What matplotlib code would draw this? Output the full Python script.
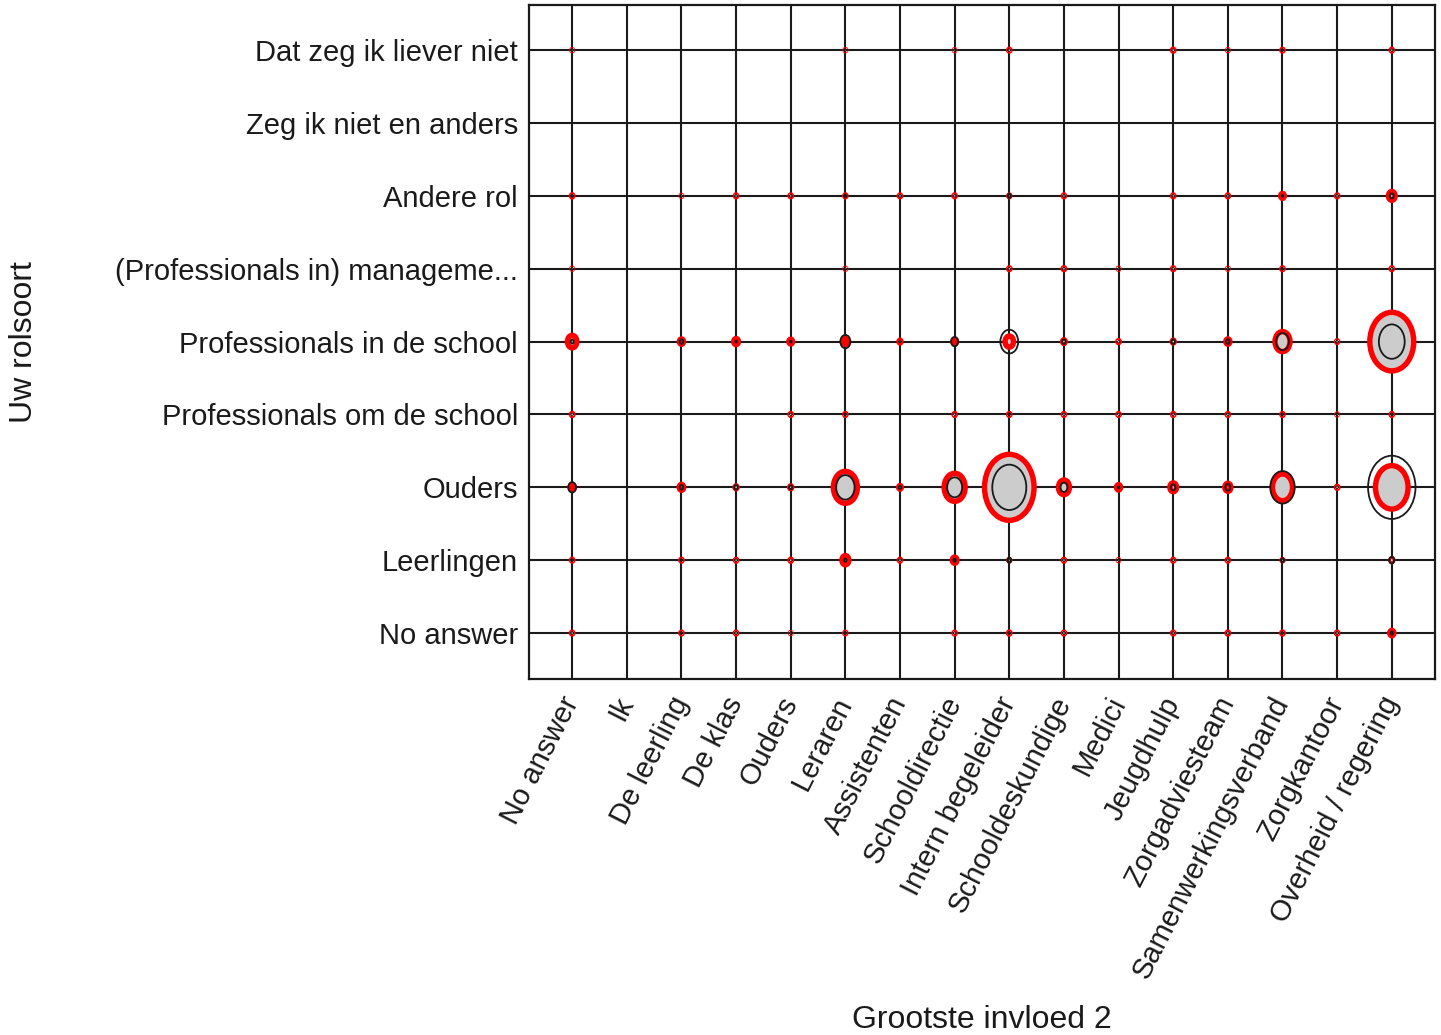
import matplotlib

matplotlib.use("Agg")
import matplotlib.pyplot as plt
import numpy as np
from matplotlib.patches import Ellipse

plt.rcParams["font.family"] = ["Liberation Sans", "DejaVu Sans"]

# rows listed top to bottom, columns left to right
row_labels = [
    "Dat zeg ik liever niet",
    "Zeg ik niet en anders",
    "Andere rol",
    "(Professionals in) manageme...",
    "Professionals in de school",
    "Professionals om de school",
    "Ouders",
    "Leerlingen",
    "No answer",
]
col_labels = [
    "No answer", "Ik", "De leerling", "De klas", "Ouders", "Leraren",
    "Assistenten", "Schooldirectie", "Intern begeleider", "Schooldeskundige",
    "Medici", "Jeugdhulp", "Zorgadviesteam", "Samenwerkingsverband",
    "Zorgkantoor", "Overheid / regering",
]

expected = [
    [0.01, 0, 0, 0, 0, 0.01, 0, 0.01, 0.04, 0, 0, 0.05, 0.01, 0.04, 0, 0.04],
    [0, 0, 0, 0, 0, 0, 0, 0, 0, 0, 0, 0, 0, 0, 0, 0],
    [0.05, 0, 0.01, 0.04, 0.04, 0.04, 0.04, 0.04, 0.03, 0.04, 0, 0.04, 0.04, 0.32, 0.04, 1.1],
    [0.01, 0, 0, 0, 0, 0.01, 0, 0, 0.04, 0.05, 0.01, 0.04, 0.01, 0.04, 0, 0.04],
    [2.2, 0, 0.4, 0.53, 0.32, 0.53, 0.1, 0.32, 1.75, 0.17, 0.05, 0.1, 0.4, 5.6, 0.03, 48],
    [0.05, 0, 0, 0, 0.04, 0.04, 0, 0.04, 0.04, 0.04, 0.04, 0.04, 0.04, 0.04, 0.01, 0.04],
    [0.4, 0, 0.48, 0.1, 0.1, 14.3, 0.17, 11, 61, 3, 0.4, 1.1, 0.9, 10, 0.05, 26.4],
    [0.04, 0, 0.04, 0.04, 0.05, 1.2, 0.04, 0.53, 0.02, 0.04, 0.01, 0.04, 0.04, 0.02, 0, 0.1],
    [0.04, 0, 0.04, 0.04, 0.01, 0.03, 0, 0.04, 0.05, 0.04, 0, 0.04, 0.05, 0.05, 0.04, 0.4],
]
observed = [
    [0, 0, 0, 0, 0, 0, 0, 0, 0, 0, 0, 0, 0, 0.03, 0, 0],
    [0, 0, 0, 0, 0, 0, 0, 0, 0, 0, 0, 0, 0, 0, 0, 0],
    [0.03, 0, 0, 0, 0, 0.1, 0, 0, 0.22, 0, 0, 0, 0, 0.05, 0, 0.36],
    [0, 0, 0, 0, 0, 0, 0, 0, 0, 0, 0, 0, 0, 0.03, 0, 0],
    [0.22, 0, 0.29, 0.05, 0.05, 2.5, 0.02, 1.2, 7.9, 0.29, 0, 0.29, 0.29, 4.1, 0, 16.6],
    [0, 0, 0, 0, 0, 0.03, 0, 0, 0.03, 0, 0, 0, 0, 0.03, 0, 0.03],
    [1.5, 0, 0.29, 0.29, 0.22, 8.4, 0.14, 5.6, 28.8, 1.2, 0.05, 0.48, 0.62, 14.8, 0, 56],
    [0.03, 0, 0.03, 0, 0, 0.14, 0, 0.14, 0.36, 0, 0, 0, 0, 0.22, 0, 0.62],
    [0, 0, 0.03, 0, 0, 0.05, 0, 0, 0.03, 0, 0, 0, 0, 0.03, 0, 0.14],
]

SCALE = 0.058  # radius in cell units per sqrt(count)
ink = "#1a1a1a"

fig = plt.figure(figsize=(14.41, 10.35), dpi=100)
ax = fig.add_axes([0.3671, 0.3440, 0.6287, 0.6512])

n_rows, n_cols = len(row_labels), len(col_labels)
for i in range(n_rows):
    ax.axhline(i, color=ink, lw=1.5, zorder=1)
for j in range(n_cols):
    ax.axvline(j, color=ink, lw=1.5, zorder=1)

exp = np.array(expected)
obs = np.array(observed)
for i in range(n_rows):
    for j in range(n_cols):
        if exp[i, j] > 0:
            r = SCALE * np.sqrt(exp[i, j])
            ax.add_patch(Ellipse((j, i), 2 * r, 2 * r, facecolor="#cccccc",
                                 edgecolor="red", lw=3.9, zorder=2))
        if obs[i, j] > 0:
            r = SCALE * np.sqrt(obs[i, j])
            ax.add_patch(Ellipse((j, i), 2 * r, 2 * r, facecolor="none",
                                 edgecolor=ink, lw=1.3, zorder=3))

ax.set_xlim(-0.79, n_cols - 1 + 0.79)
ax.set_ylim(n_rows - 1 + 0.63, -0.62)

ax.set_xticks(range(n_cols))
ax.set_xticklabels(col_labels, rotation=63, ha="right", va="center",
                   rotation_mode="anchor", fontsize=21, color=ink)
ax.set_yticks(range(n_rows))
ax.set_yticklabels(row_labels, fontsize=21, color=ink)
ax.tick_params(axis="both", length=0)
ax.tick_params(axis="y", pad=8)
ax.tick_params(axis="x", pad=14)
for sp in ax.spines.values():
    sp.set_color(ink)
    sp.set_linewidth(1.6)

fig.text(24 / 1441, 1 - 342 / 1035, "Uw rolsoort", rotation=90, fontsize=23,
         ha="center", va="center", color=ink)
fig.text(982 / 1441, 1 - 1020 / 1035, "Grootste invloed 2", fontsize=23,
         ha="center", va="center", color=ink)

fig.savefig("out.png", dpi=100)
plt.close(fig)
